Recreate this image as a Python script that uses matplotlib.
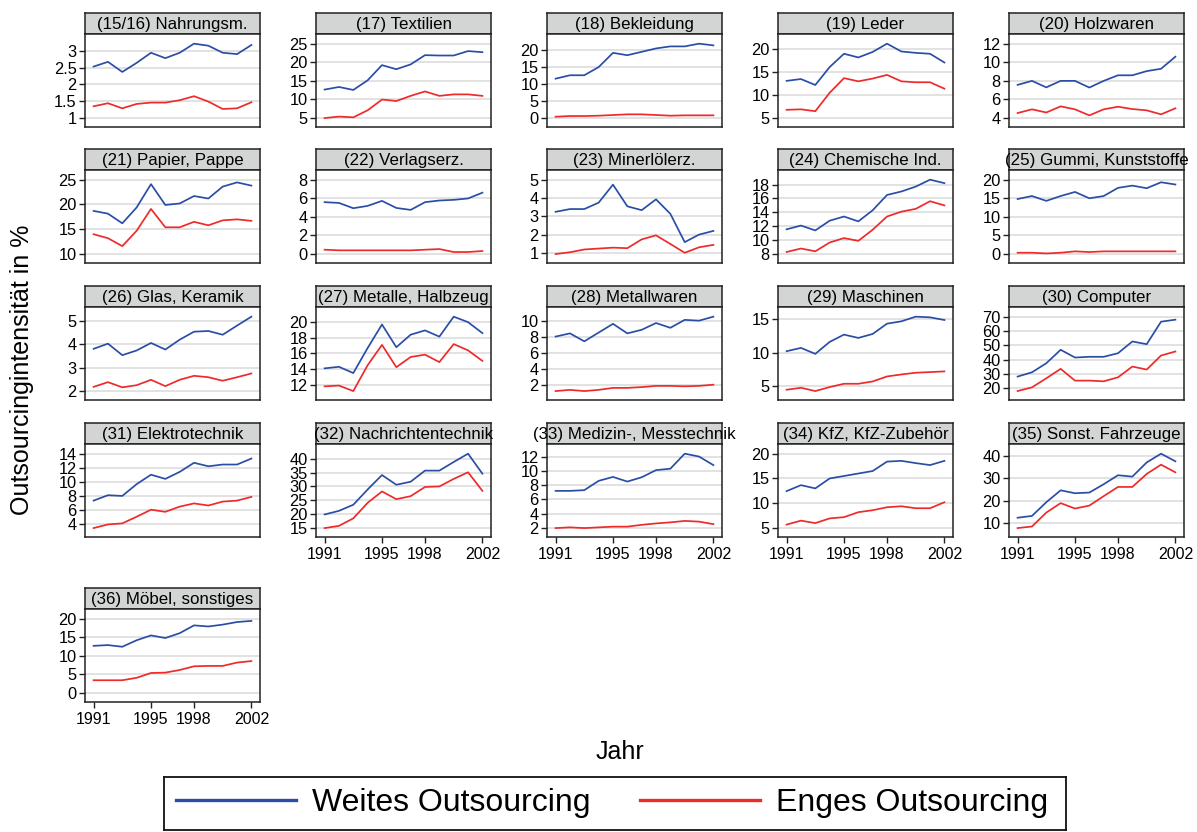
import matplotlib
matplotlib.use("Agg")
import matplotlib.pyplot as plt
from matplotlib.lines import Line2D

plt.rcParams['font.family'] = ['Liberation Sans', 'DejaVu Sans']

years = list(range(1991, 2003))
xtick_years = [1991, 1995, 1998, 2002]

titles = [
    "(15/16) Nahrungsm.", "(17) Textilien", "(18) Bekleidung", "(19) Leder", "(20) Holzwaren",
    "(21) Papier, Pappe", "(22) Verlagserz.", "(23) Minerlölerz.", "(24) Chemische Ind.", "(25) Gummi, Kunststoffe",
    "(26) Glas, Keramik", "(27) Metalle, Halbzeug", "(28) Metallwaren", "(29) Maschinen", "(30) Computer",
    "(31) Elektrotechnik", "(32) Nachrichtentechnik", "(33) Medizin-, Messtechnik", "(34) KfZ, KfZ-Zubehör", "(35) Sonst. Fahrzeuge",
    "(36) Möbel, sonstiges",
]

weites = [
    [2.53, 2.67, 2.37, 2.64, 2.94, 2.78, 2.94, 3.21, 3.15, 2.94, 2.90, 3.17],
    [12.6, 13.3, 12.5, 15.1, 19.2, 18.1, 19.4, 21.9, 21.8, 21.8, 23.0, 22.7],
    [11.6, 12.6, 12.6, 15.0, 19.2, 18.5, 19.5, 20.5, 21.1, 21.1, 21.9, 21.4],
    [13.1, 13.5, 12.2, 16.1, 19.0, 18.2, 19.4, 21.2, 19.5, 19.2, 19.0, 17.1],
    [7.57, 8.0, 7.3, 8.0, 8.0, 7.28, 8.0, 8.6, 8.6, 9.05, 9.3, 10.6],
    [18.7, 18.15, 16.2, 19.4, 24.1, 19.9, 20.2, 21.7, 21.2, 23.6, 24.45, 23.8],
    [5.58, 5.5, 4.93, 5.18, 5.72, 4.96, 4.75, 5.58, 5.76, 5.83, 5.98, 6.6],
    [3.25, 3.4, 3.4, 3.75, 4.73, 3.55, 3.34, 3.93, 3.14, 1.6, 2.01, 2.21],
    [11.56, 12.1, 11.4, 12.8, 13.4, 12.7, 14.3, 16.5, 17.0, 17.7, 18.7, 18.2],
    [14.8, 15.6, 14.3, 15.6, 16.7, 15.0, 15.6, 17.8, 18.4, 17.7, 19.3, 18.7],
    [3.8, 4.02, 3.53, 3.73, 4.05, 3.77, 4.19, 4.53, 4.56, 4.4, 4.79, 5.17],
    [14.1, 14.3, 13.5, 16.7, 19.7, 16.8, 18.4, 18.95, 18.15, 20.7, 20.0, 18.6],
    [8.1, 8.5, 7.5, 8.6, 9.7, 8.5, 8.95, 9.8, 9.2, 10.2, 10.1, 10.6],
    [10.2, 10.7, 9.8, 11.6, 12.7, 12.2, 12.8, 14.35, 14.7, 15.4, 15.3, 14.9],
    [28.2, 31.2, 37.5, 46.9, 41.5, 42.0, 42.0, 44.5, 52.7, 50.8, 66.5, 67.9],
    [7.3, 8.07, 7.97, 9.65, 11.0, 10.4, 11.4, 12.7, 12.2, 12.45, 12.45, 13.3],
    [19.9, 21.2, 23.4, 28.9, 34.1, 30.6, 31.7, 35.7, 35.7, 38.8, 41.8, 34.6],
    [7.2, 7.2, 7.3, 8.6, 9.15, 8.5, 9.1, 10.1, 10.3, 12.4, 12.0, 10.8],
    [12.45, 13.65, 13.0, 15.0, 15.5, 16.0, 16.5, 18.4, 18.55, 18.1, 17.7, 18.55],
    [12.4, 13.2, 19.3, 24.6, 23.3, 23.6, 27.3, 31.3, 30.7, 37.0, 40.9, 37.5],
    [12.7, 12.9, 12.45, 14.2, 15.5, 14.8, 16.1, 18.2, 17.9, 18.4, 19.1, 19.4],
]

enges = [
    [1.35, 1.44, 1.29, 1.42, 1.46, 1.46, 1.53, 1.65, 1.49, 1.27, 1.29, 1.47],
    [4.9, 5.3, 5.1, 7.0, 9.9, 9.5, 10.9, 12.1, 10.9, 11.3, 11.3, 10.9],
    [0.4, 0.6, 0.6, 0.7, 0.9, 1.1, 1.1, 0.9, 0.7, 0.8, 0.8, 0.8],
    [6.8, 6.9, 6.5, 10.5, 13.7, 13.0, 13.6, 14.4, 13.0, 12.8, 12.8, 11.4],
    [4.54, 4.94, 4.6, 5.26, 4.94, 4.29, 4.94, 5.22, 4.97, 4.83, 4.40, 5.05],
    [14.0, 13.2, 11.6, 14.7, 19.1, 15.4, 15.4, 16.5, 15.8, 16.8, 17.0, 16.7],
    [0.47, 0.4, 0.4, 0.4, 0.4, 0.4, 0.4, 0.47, 0.54, 0.22, 0.22, 0.33],
    [0.95, 1.05, 1.2, 1.25, 1.3, 1.27, 1.75, 1.97, 1.5, 1.02, 1.32, 1.45],
    [8.3, 8.8, 8.4, 9.66, 10.3, 9.9, 11.5, 13.4, 14.1, 14.5, 15.6, 15.0],
    [0.36, 0.36, 0.18, 0.36, 0.73, 0.55, 0.73, 0.73, 0.73, 0.73, 0.73, 0.73],
    [2.18, 2.38, 2.16, 2.25, 2.48, 2.21, 2.48, 2.65, 2.59, 2.44, 2.59, 2.75],
    [11.8, 11.9, 11.2, 14.5, 17.1, 14.25, 15.55, 15.85, 14.9, 17.2, 16.4, 15.05],
    [1.25, 1.4, 1.25, 1.4, 1.65, 1.65, 1.75, 1.9, 1.9, 1.85, 1.9, 2.05],
    [4.4, 4.7, 4.2, 4.8, 5.3, 5.3, 5.65, 6.4, 6.7, 6.96, 7.06, 7.16],
    [18.1, 20.7, 27.0, 33.6, 25.4, 25.4, 24.9, 27.7, 35.2, 33.1, 42.9, 45.7],
    [3.38, 3.9, 4.05, 5.0, 6.0, 5.7, 6.44, 6.9, 6.6, 7.16, 7.3, 7.83],
    [15.0, 15.8, 18.5, 24.1, 28.2, 25.4, 26.5, 29.8, 30.0, 32.7, 35.1, 28.4],
    [2.0, 2.1, 2.0, 2.1, 2.2, 2.2, 2.45, 2.65, 2.8, 3.0, 2.9, 2.55],
    [5.7, 6.5, 6.0, 6.95, 7.2, 8.2, 8.6, 9.2, 9.4, 9.0, 9.0, 10.2],
    [7.8, 8.5, 14.7, 18.9, 16.5, 17.8, 22.0, 26.1, 26.1, 31.9, 36.0, 32.6],
    [3.45, 3.45, 3.45, 4.1, 5.4, 5.5, 6.2, 7.2, 7.3, 7.3, 8.2, 8.6],
]

yticks = [
    [1, 1.5, 2, 2.5, 3], [5, 10, 15, 20, 25], [0, 5, 10, 15, 20], [5, 10, 15, 20], [4, 6, 8, 10, 12],
    [10, 15, 20, 25], [0, 2, 4, 6, 8], [1, 2, 3, 4, 5], [8, 10, 12, 14, 16, 18], [0, 5, 10, 15, 20],
    [2, 3, 4, 5], [12, 14, 16, 18, 20], [2, 4, 6, 8, 10], [5, 10, 15], [20, 30, 40, 50, 60, 70],
    [4, 6, 8, 10, 12, 14], [15, 20, 25, 30, 35, 40], [2, 4, 6, 8, 10, 12], [5, 10, 15, 20], [10, 20, 30, 40],
    [0, 5, 10, 15, 20],
]

legend_labels = ["Weites Outsourcing", "Enges Outsourcing"]
BLUE = "#2a4ea6"
RED = "#ee2a2a"
GRID = "#e2e2e2"
HEADER = "#d3d4d4"

W, H = 1197, 832
fig = plt.figure(figsize=(W / 100, H / 100), dpi=100)

col_left = [85 + 231 * i for i in range(5)]
row_top = [13, 149, 286, 423, 588]
panel_w = 175
header_h = 21
plot_h = 93
xlabel_panels = {16, 17, 18, 19, 20}


def fr(x, y, w, h):
    return [x / W, 1 - (y + h) / H, w / W, h / H]


for k, title in enumerate(titles):
    r, c = divmod(k, 5)
    x0 = col_left[c]
    y0 = row_top[r]
    # header strip
    hax = fig.add_axes(fr(x0, y0, panel_w, header_h))
    hax.set_facecolor(HEADER)
    hax.set_xticks([])
    hax.set_yticks([])
    for s in hax.spines.values():
        s.set_linewidth(1.1)
        s.set_color("#222222")
    hax.text(0.5, 0.45, title, ha="center", va="center", fontsize=12.2,
             transform=hax.transAxes, clip_on=False)
    # plot area
    ax = fig.add_axes(fr(x0, y0 + header_h, panel_w, plot_h))
    ax.plot(years, weites[k], color=BLUE, lw=1.25)
    ax.plot(years, enges[k], color=RED, lw=1.25)
    t = yticks[k]
    lo = min(min(t), min(weites[k]), min(enges[k]))
    hi = max(max(t), max(weites[k]), max(enges[k]))
    rng = hi - lo
    ax.set_ylim(lo - 0.12 * rng, hi + 0.13 * rng)
    ax.set_xlim(1990.4, 2002.6)
    ax.set_yticks(t)
    ax.set_yticklabels([f"{v:g}" for v in t])
    ax.yaxis.grid(True, color=GRID, lw=1.4)
    ax.set_axisbelow(True)
    ax.tick_params(axis="y", direction="out", length=4, width=1, pad=2,
                   labelsize=11.8, color="#222222")
    if k in xlabel_panels:
        ax.set_xticks(xtick_years)
        ax.set_xticklabels([str(v) for v in xtick_years])
        ax.tick_params(axis="x", direction="out", length=4, width=1, pad=3,
                       labelsize=11.5, color="#222222")
    else:
        ax.set_xticks([])
    for s in ax.spines.values():
        s.set_linewidth(1.1)
        s.set_color("#222222")

fig.text(22 / W, 1 - 370 / H, "Outsourcingintensität in %", rotation=90,
         ha="center", va="center", fontsize=18)
fig.text(620 / W, 1 - 752 / H, "Jahr", ha="center", va="center", fontsize=18)

# legend box
lax = fig.add_axes(fr(164, 777, 902, 53))
lax.set_xticks([])
lax.set_yticks([])
for s in lax.spines.values():
    s.set_linewidth(1.3)
    s.set_color("#111111")
handles = [Line2D([0], [0], color=BLUE, lw=2.4), Line2D([0], [0], color=RED, lw=2.4)]
leg = lax.legend(handles, legend_labels, loc="center left", bbox_to_anchor=(12 / 902, 0.5),
                 ncol=2, frameon=False, fontsize=23, handlelength=3.75, handletextpad=0.5,
                 columnspacing=1.55, borderpad=0, borderaxespad=0)

fig.savefig("out.png", dpi=100)
